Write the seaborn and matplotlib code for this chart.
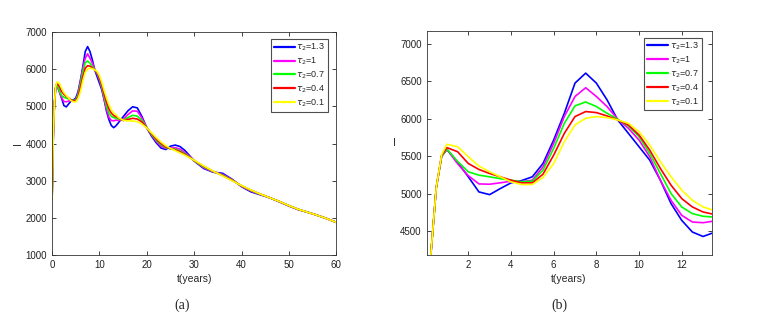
import numpy as np
import pandas as pd
import matplotlib
matplotlib.use('Agg')
import matplotlib.pyplot as plt
import seaborn as sns

# time grid (years)
t = [0, 0.25, 0.5, 0.75, 1, 1.5, 2, 2.5, 3, 3.5, 4, 4.5, 5, 5.5, 6, 6.5, 7, 7.5,
     8, 8.5, 9, 9.5, 10, 10.5, 11, 11.5, 12, 12.5, 13, 13.5, 14, 15, 16, 17, 18,
     19, 20, 21, 22, 23, 24, 25, 26, 27, 28, 29, 30, 32, 34, 36, 38, 40, 42, 44,
     46, 48, 50, 52, 54, 56, 58, 60]

I_13 = [2500, 4200, 5080, 5500, 5590, 5420, 5225, 5023, 4987, 5068, 5144, 5175,
        5225, 5403, 5716, 6074, 6477, 6610, 6477, 6253, 5985, 5806, 5627, 5448,
        5180, 4867, 4643, 4487, 4428, 4480, 4560, 4720, 4880, 4990, 4960, 4720,
        4420, 4200, 4020, 3880, 3840, 3930, 3960, 3920, 3820, 3680, 3530, 3330,
        3230, 3200, 3040, 2840, 2700, 2620, 2540, 2430, 2320, 2220, 2150, 2070,
        1980, 1880]
I_10 = [2500, 4200, 5080, 5500, 5590, 5400, 5240, 5130, 5126, 5145, 5166, 5160,
        5180, 5358, 5672, 6030, 6298, 6415, 6298, 6164, 5994, 5873, 5716, 5493,
        5180, 4911, 4710, 4621, 4612, 4634, 4620, 4650, 4780, 4880, 4870, 4680,
        4430, 4230, 4060, 3930, 3870, 3880, 3890, 3850, 3760, 3660, 3540, 3350,
        3240, 3170, 3030, 2850, 2720, 2630, 2540, 2435, 2325, 2225, 2150, 2070,
        1980, 1880]
I_07 = [2500, 4200, 5080, 5500, 5595, 5430, 5292, 5247, 5225, 5200, 5180, 5160,
        5166, 5314, 5605, 5940, 6173, 6225, 6164, 6074, 5994, 5904, 5761, 5537,
        5269, 5001, 4822, 4733, 4698, 4688, 4660, 4630, 4700, 4760, 4740, 4620,
        4430, 4250, 4090, 3970, 3890, 3860, 3850, 3800, 3730, 3640, 3540, 3370,
        3250, 3150, 3020, 2860, 2735, 2635, 2540, 2440, 2330, 2230, 2150, 2070,
        1980, 1880]
I_04 = [2500, 4200, 5080, 5510, 5615, 5560, 5403, 5323, 5269, 5225, 5180, 5144,
        5144, 5260, 5515, 5806, 6030, 6097, 6083, 6038, 5985, 5918, 5784, 5582,
        5336, 5113, 4934, 4822, 4755, 4724, 4690, 4620, 4650, 4680, 4660, 4580,
        4420, 4270, 4120, 4000, 3910, 3860, 3830, 3780, 3710, 3630, 3545, 3390,
        3255, 3140, 3010, 2865, 2745, 2640, 2540, 2440, 2330, 2230, 2150, 2070,
        1980, 1880]
I_01 = [2500, 4200, 5080, 5520, 5660, 5627, 5493, 5368, 5292, 5225, 5157, 5122,
        5122, 5216, 5403, 5694, 5918, 6007, 6030, 6016, 5985, 5940, 5828, 5649,
        5426, 5225, 5046, 4911, 4822, 4777, 4700, 4630, 4610, 4610, 4590, 4520,
        4420, 4290, 4160, 4040, 3940, 3870, 3810, 3750, 3690, 3620, 3550, 3400,
        3260, 3130, 3000, 2870, 2750, 2640, 2540, 2440, 2330, 2230, 2150, 2070,
        1980, 1880]

labels = [r'$\tau_2$=1.3', r'$\tau_2$=1', r'$\tau_2$=0.7', r'$\tau_2$=0.4', r'$\tau_2$=0.1']
colors = ['#0000ff', '#ff00ff', '#00ff00', '#ff0000', '#ffff00']

frames = []
for lab, vals in zip(labels, [I_13, I_10, I_07, I_04, I_01]):
    frames.append(pd.DataFrame({'t': t, 'I': vals, 'tau': lab}))
df = pd.concat(frames, ignore_index=True)

sns.set_style('ticks')
plt.rcParams['font.family'] = ['Liberation Sans', 'DejaVu Sans']
plt.rcParams['mathtext.fontset'] = 'dejavusans'

fig = plt.figure(figsize=(7.66, 3.18), dpi=100)
ax_a = fig.add_axes([0.068, 0.198, 0.371, 0.701])
ax_b = fig.add_axes([0.557, 0.198, 0.372, 0.705])


def style_axes(ax, leg_anchor):
    sns.lineplot(data=df, x='t', y='I', hue='tau', palette=colors,
                 linewidth=1.2, ax=ax, sort=False)
    for s in ax.spines.values():
        s.set_visible(True)
        s.set_linewidth(0.6)
        s.set_color('#333333')
    ax.tick_params(direction='in', length=3, width=0.6, labelsize=7,
                   top=True, right=True, colors='#222222')
    ax.set_xlabel('t(years)', fontsize=7.5, labelpad=3)
    h, l = ax.get_legend_handles_labels()
    leg = ax.legend(h, l, loc='upper right', bbox_to_anchor=leg_anchor,
                    borderaxespad=0, fontsize=6.5, handlelength=2.3,
                    handletextpad=0.2, labelspacing=0.27, borderpad=0.3,
                    frameon=True, fancybox=False)
    leg.get_frame().set_edgecolor('#222222')
    leg.get_frame().set_linewidth(0.8)
    for line in leg.get_lines():
        line.set_linewidth(1.6)


style_axes(ax_a, (0.972, 0.969))
ax_a.set_xlim(0, 60)
ax_a.set_ylim(1000, 7000)
ax_a.set_xticks([0, 10, 20, 30, 40, 50, 60])
ax_a.set_yticks([1000, 2000, 3000, 4000, 5000, 6000, 7000])
ax_a.set_ylabel('I', fontsize=7.5, labelpad=2)

style_axes(ax_b, (0.965, 0.969))
ax_b.set_xlim(0.05, 13.4)
ax_b.set_ylim(4180, 7175)
ax_b.set_xticks([2, 4, 6, 8, 10, 12])
ax_b.set_yticks([4500, 5000, 5500, 6000, 6500, 7000])
ax_b.set_ylabel('I', fontsize=7.5, rotation=0, labelpad=4, va='center')

fig.text(182 / 766, 1 - 305 / 318, '(a)', ha='center', va='center',
         fontsize=10, family='Liberation Serif')
fig.text(559 / 766, 1 - 305 / 318, '(b)', ha='center', va='center',
         fontsize=10, family='Liberation Serif')

fig.savefig('out.png', dpi=100, facecolor='white')
